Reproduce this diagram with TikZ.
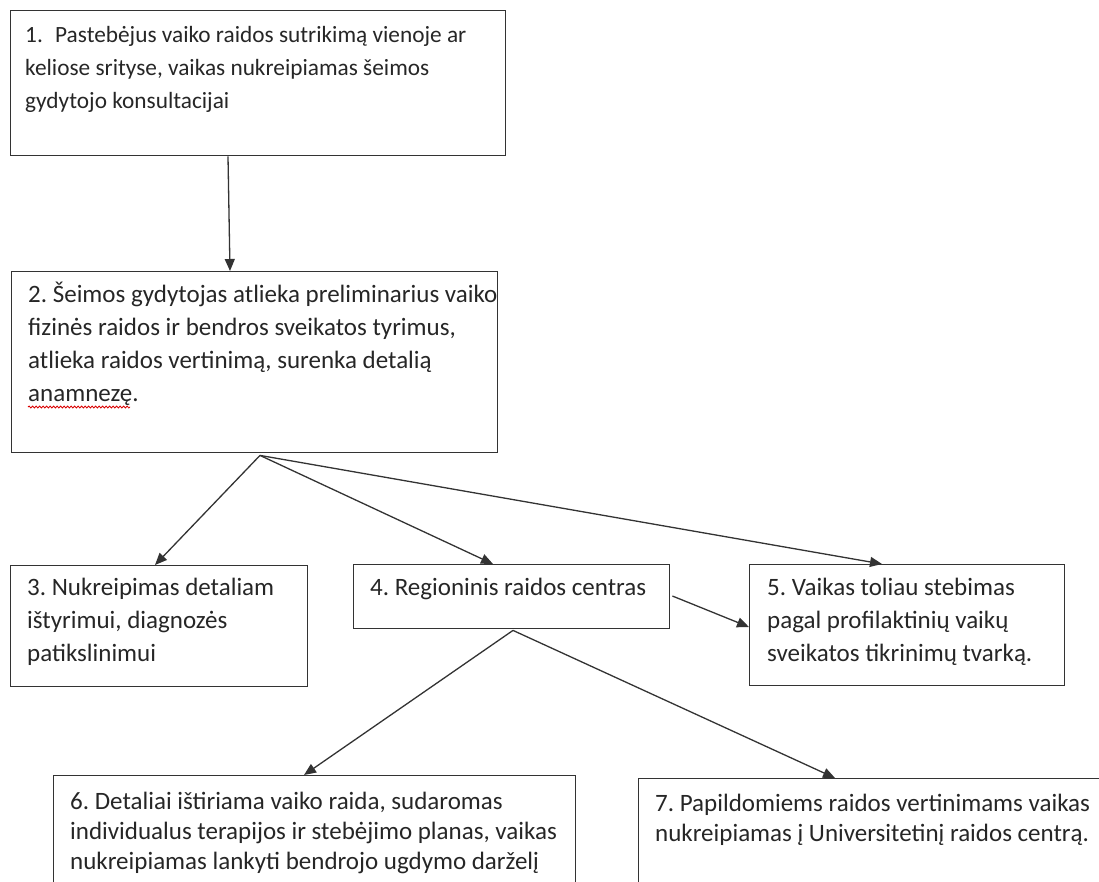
\documentclass[tikz,border=0pt]{standalone}
\usepackage{fontspec}
\setmainfont{Carlito}
\usetikzlibrary{arrows.meta,calc,decorations.pathmorphing}
\definecolor{linec}{HTML}{333333}
\definecolor{textc}{HTML}{262626}
\tikzset{
  x=1pt,y=-1pt,
  stepbox/.style={draw=linec,line width=1.4pt,anchor=north west,inner sep=0pt},
  boxtext/.style={anchor=base west,inner sep=0pt,align=flush left,text=textc,text width=620pt},
  first/.style={font=\frenchspacing\fontsize{23.3}{33}\selectfont},
  wide/.style={font=\frenchspacing\fontsize{25}{33}\selectfont},
  narrow/.style={font=\frenchspacing\fontsize{25}{30}\selectfont},
  conn/.style={draw=linec,line width=1.3pt,-{Triangle[length=12pt,width=10pt]}},
}
\begin{document}
\begin{tikzpicture}
\useasboundingbox (0,0) rectangle (1099,881);
\clip (0,0) rectangle (1099,881);
% boxes
\node[stepbox,minimum width=495pt,minimum height=145pt] (b1) at (10,10) {};
\node[stepbox,minimum width=486pt,minimum height=181pt] (b2) at (11,271) {};
\node[stepbox,minimum width=297pt,minimum height=121pt] (b3) at (10,565) {};
\node[stepbox,minimum width=316pt,minimum height=64pt] (b4) at (353,564) {};
\node[stepbox,minimum width=315pt,minimum height=121pt] (b5) at (749,564) {};
\node[stepbox,minimum width=522pt,minimum height=140pt] (b6) at (53,775) {};
\node[stepbox,minimum width=480pt,minimum height=140pt] (b7) at (638,778) {};
% texts
\node[boxtext,first] (t1) at ($(b1.north west)+(15,32)$) {\makebox[30pt][l]{1.}Pastebėjus vaiko raidos sutrikimą vienoje ar\\keliose srityse, vaikas nukreipiamas šeimos\\gydytojo konsultacijai};
\node[boxtext,wide] (t2) at ($(b2.north west)+(17,31)$) {2. Šeimos gydytojas atlieka preliminarius vaiko\\fizinės raidos ir bendros sveikatos tyrimus,\\atlieka raidos vertinimą, surenka detalią\\anamnezę.};
\node[boxtext,wide] (t3) at ($(b3.north west)+(17,30)$) {3. Nukreipimas detaliam\\ištyrimui, diagnozės\\patikslinimui};
\node[boxtext,wide] (t4) at ($(b4.north west)+(17,31)$) {4. Regioninis raidos centras};
\node[boxtext,wide] (t5) at ($(b5.north west)+(18,31)$) {5. Vaikas toliau stebimas\\pagal profilaktinių vaikų\\sveikatos tikrinimų tvarką.};
\node[boxtext,narrow] (t6) at ($(b6.north west)+(17,34)$) {6. Detaliai ištiriama vaiko raida, sudaromas\\individualus terapijos ir stebėjimo planas, vaikas\\nukreipiamas lankyti bendrojo ugdymo darželį};
\node[boxtext,narrow] (t7) at ($(b7.north west)+(17,33)$) {7. Papildomiems raidos vertinimams vaikas\\nukreipiamas į Universitetinį raidos centrą.};
% spell-check underline
\draw[red!85!black,line width=0.8pt,decorate,decoration={snake,amplitude=1pt,segment length=3.5pt}]
  ($(b2.north west)+(17,136)$) -- ($(b2.north west)+(119,136)$);
% connectors
\draw[conn] ($(b1.south west)+(218,0)$) -- ($(b2.north west)+(219,0)$);
\coordinate (o2) at ($(b2.south west)+(249,2)$);
\draw[conn] (o2) -- ($(b3.north west)+(145,0)$);
\draw[conn] (o2) -- ($(b4.north west)+(140,0)$);
\draw[conn] (o2) -- ($(b5.north west)+(133,0)$);
\draw[conn] ($(b4.north east)+(2,32)$) -- ($(b5.north west)+(0,63)$);
\coordinate (o4) at ($(b4.south west)+(160,1)$);
\draw[conn] (o4) -- ($(b6.north west)+(251,0)$);
\draw[conn] (o4) -- ($(b7.north west)+(197,0)$);
\end{tikzpicture}
\end{document}
